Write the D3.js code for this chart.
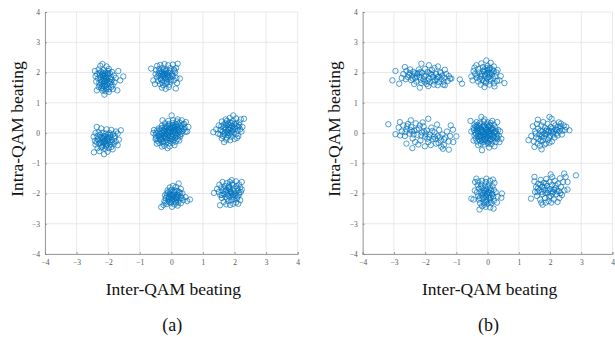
<!DOCTYPE html>
<html><head><meta charset="utf-8">
<script src="https://cdn.jsdelivr.net/npm/d3@7"></script>
<style>body{margin:0;background:#fff}svg{display:block}</style>
</head><body><svg id="chart" width="615" height="337"></svg>
<script>
// ---- data ----
const tickValues = [-4,-3,-2,-1,0,1,2,3,4];
const xLabel = "Inter-QAM beating";
const yLabel = "Intra-QAM beating";
const panelTitles = ["(a)", "(b)"];

const a_c1 = [[-2.42,2.05],[-2.36,1.41],[-2.12,1.27],[-1.52,1.87],[-1.71,1.41],[-1.62,1.74],[-1.68,2.05],[-2.25,2.22],[-2.18,2.28],[-2.05,2.2],[-1.98,2.12],[-2.3,2.1],[-2.22,2.02],[-2.14,2.08],[-2.08,2.0],[-1.95,1.98],[-1.88,2.02],[-2.35,1.95],[-2.27,1.9],[-2.18,1.93],[-2.1,1.88],[-2.02,1.92],[-1.92,1.85],[-1.82,1.9],[-2.32,1.8],[-2.24,1.76],[-2.15,1.82],[-2.06,1.78],[-1.98,1.72],[-1.88,1.76],[-1.8,1.68],[-2.28,1.66],[-2.2,1.62],[-2.12,1.68],[-2.04,1.6],[-1.95,1.64],[-1.86,1.58],[-2.3,1.52],[-2.22,1.48],[-2.14,1.55],[-2.06,1.5],[-1.97,1.45],[-1.9,1.52],[-2.18,1.4],[-2.08,1.38],[-1.98,1.36],[-2.26,1.58],[-2.1,1.72],[-2.02,1.84],[-2.16,1.98],[-2.38,1.7],[-1.76,1.82],[-1.85,1.45],[-2.4,1.88],[-2.0,2.05],[-2.12,1.6],[-2.13,1.79],[-2.07,1.83],[-2.19,1.71],[-2.03,1.67],[-2.16,1.9],[-2.09,1.56],[-1.93,1.79],[-2.24,1.85],[-2.01,1.97],[-2.11,1.95],[-2.2,1.54],[-1.91,1.68],[-2.05,1.45],[-2.27,1.98],[-2.15,1.46]];
const a_c2 = [[-0.64,2.13],[0.27,1.8],[0.14,1.47],[0.2,2.29],[-0.57,1.74],[-0.45,2.22],[-0.35,2.25],[-0.22,2.28],[-0.1,2.24],[0.05,2.26],[-0.48,2.08],[-0.38,2.12],[-0.28,2.15],[-0.16,2.1],[-0.04,2.14],[0.08,2.1],[0.15,2.15],[-0.5,1.95],[-0.4,1.98],[-0.3,2.02],[-0.2,1.96],[-0.1,2.0],[0.02,1.96],[0.12,2.0],[-0.46,1.84],[-0.34,1.88],[-0.24,1.85],[-0.14,1.9],[-0.04,1.84],[0.06,1.88],[0.16,1.82],[-0.42,1.72],[-0.32,1.76],[-0.22,1.72],[-0.12,1.78],[-0.02,1.7],[0.08,1.74],[-0.36,1.62],[-0.26,1.58],[-0.16,1.64],[-0.06,1.6],[-0.3,1.5],[-0.18,1.46],[-0.08,1.52],[-0.52,1.62],[0.18,1.65],[-0.26,1.95],[-0.08,1.92],[-0.18,2.05],[-0.34,1.8],[-0.21,1.93],[-0.15,1.97],[-0.27,1.89],[-0.11,1.86],[-0.31,1.95],[-0.19,1.81],[-0.05,2.05],[-0.37,2.04],[-0.25,2.08],[-0.13,1.69],[0.01,1.9],[-0.41,1.9],[-0.29,1.67],[0.1,2.06],[-0.02,1.77]];
const a_c3 = [[-2.45,-0.64],[-2.13,-0.7],[-1.6,0.09],[-2.36,0.2],[-2.22,0.15],[-2.05,0.12],[-1.9,0.1],[-1.75,0.05],[-2.4,0.0],[-2.3,0.02],[-2.18,0.0],[-2.08,-0.02],[-1.96,0.0],[-1.84,-0.04],[-1.7,-0.02],[-2.46,-0.12],[-2.34,-0.1],[-2.24,-0.14],[-2.14,-0.1],[-2.02,-0.14],[-1.92,-0.12],[-1.8,-0.16],[-2.42,-0.26],[-2.3,-0.24],[-2.2,-0.28],[-2.1,-0.22],[-2.0,-0.26],[-1.88,-0.24],[-1.76,-0.28],[-1.66,-0.22],[-2.4,-0.38],[-2.28,-0.36],[-2.16,-0.4],[-2.06,-0.34],[-1.94,-0.38],[-1.82,-0.36],[-1.7,-0.4],[-2.34,-0.5],[-2.22,-0.48],[-2.1,-0.52],[-1.98,-0.5],[-1.86,-0.54],[-2.28,-0.6],[-2.02,-0.62],[-1.9,-0.46],[-2.16,-0.2],[-2.04,-0.4],[-2.26,-0.06],[-1.98,-0.18],[-2.12,-0.32],[-2.09,-0.27],[-2.15,-0.31],[-2.03,-0.2],[-2.19,-0.16],[-1.95,-0.29],[-2.25,-0.32],[-2.11,-0.12],[-1.87,-0.31],[-2.33,-0.2],[-2.07,-0.44],[-1.93,-0.06],[-2.19,-0.45],[-1.79,-0.1],[-2.37,-0.3],[-2.0,-0.06]];
const a_c4 = [[0.01,0.58],[-0.57,0.0],[0.54,0.2],[-0.46,-0.35],[0.33,0.42],[-0.28,0.42],[0.5,0.05],[0.4,0.3],[-0.5,-0.2],[-0.3,-0.45],[-0.12,-0.5],[0.1,-0.4],[0.25,-0.25],[0.46,0.36],[0.2,0.45],[-0.55,0.1],[-0.1,0.4],[0.05,0.42],[0.18,0.38],[-0.2,0.32],[-0.08,0.3],[0.04,0.33],[0.14,0.3],[0.26,0.34],[0.36,0.28],[-0.3,0.24],[-0.2,0.22],[-0.1,0.25],[0.0,0.22],[0.1,0.24],[0.2,0.2],[0.3,0.23],[0.42,0.18],[-0.4,0.15],[-0.3,0.17],[-0.2,0.14],[-0.1,0.16],[0.0,0.13],[0.1,0.17],[0.2,0.14],[0.3,0.15],[0.4,0.12],[-0.45,0.08],[-0.35,0.06],[-0.25,0.09],[-0.15,0.07],[-0.05,0.08],[0.05,0.06],[0.15,0.09],[0.25,0.05],[0.35,0.07],[0.45,0.04],[-0.48,0.0],[-0.38,-0.02],[-0.28,0.01],[-0.18,-0.01],[-0.08,0.02],[0.02,-0.02],[0.12,0.0],[0.22,-0.01],[0.32,-0.03],[-0.5,-0.08],[-0.4,-0.09],[-0.3,-0.07],[-0.2,-0.1],[-0.1,-0.08],[0.0,-0.1],[0.1,-0.07],[0.2,-0.1],[0.28,-0.12],[-0.48,-0.16],[-0.38,-0.18],[-0.28,-0.15],[-0.18,-0.17],[-0.08,-0.16],[0.02,-0.19],[0.12,-0.16],[0.2,-0.2],[-0.44,-0.26],[-0.34,-0.24],[-0.24,-0.27],[-0.14,-0.23],[-0.04,-0.26],[0.06,-0.24],[0.14,-0.28],[-0.38,-0.33],[-0.26,-0.35],[-0.16,-0.31],[-0.06,-0.34],[0.04,-0.32],[-0.22,-0.42],[-0.05,-0.44],[-0.12,0.04],[0.08,0.1],[-0.22,-0.05],[0.16,-0.05],[-0.02,0.18],[-0.32,-0.12],[-0.03,0.03],[-0.13,-0.05],[0.07,0.04],[-0.09,0.11],[0.13,0.13],[-0.19,-0.13],[0.03,-0.13],[-0.23,0.05],[0.23,0.1],[-0.33,-0.21],[0.17,0.25],[-0.01,-0.21],[0.33,0.19],[-0.27,-0.29],[0.09,0.2],[-0.41,-0.12],[0.27,-0.06],[-0.15,0.21],[0.05,0.27],[-0.35,0.12]];
const a_c5 = [[1.33,0.03],[2.3,0.47],[1.96,0.58],[1.67,-0.3],[1.86,-0.24],[2.2,0.45],[1.42,0.12],[1.5,0.25],[1.6,0.38],[1.72,0.45],[1.85,0.5],[2.05,0.48],[2.15,0.35],[2.25,0.2],[2.22,0.05],[2.12,-0.1],[2.0,-0.2],[1.55,-0.05],[1.6,-0.18],[1.75,-0.15],[1.55,0.1],[1.65,0.18],[1.75,0.25],[1.85,0.35],[1.95,0.4],[2.05,0.3],[2.12,0.2],[1.62,0.05],[1.72,0.1],[1.82,0.15],[1.92,0.22],[2.02,0.14],[2.1,0.08],[1.68,-0.05],[1.78,0.0],[1.88,0.05],[1.98,0.02],[2.06,-0.04],[1.72,0.32],[1.8,-0.08],[1.9,-0.12],[1.95,0.12],[1.84,0.26],[1.66,0.28],[1.58,0.22],[2.0,0.3],[1.76,0.4],[1.9,-0.02],[1.48,-0.02],[2.18,0.12],[1.81,0.11],[1.87,0.17],[1.77,0.05],[1.93,0.08],[1.71,0.19],[1.85,-0.02],[1.99,0.19],[1.69,0.01],[2.07,0.23],[1.79,0.3],[1.63,-0.1],[2.15,0.26],[1.91,0.33],[1.74,-0.22],[2.08,-0.16]];
const a_c6 = [[-0.32,-2.45],[0.59,-2.2],[0.23,-1.67],[-0.2,-2.06],[0.5,-2.25],[0.45,-2.12],[0.05,-1.75],[-0.05,-1.8],[0.15,-1.78],[0.3,-1.85],[-0.12,-1.9],[0.0,-1.88],[0.12,-1.9],[0.24,-1.95],[0.35,-2.0],[-0.15,-2.0],[-0.05,-2.02],[0.07,-1.98],[0.18,-2.04],[0.3,-2.1],[-0.18,-2.15],[-0.08,-2.12],[0.04,-2.1],[0.14,-2.14],[0.26,-2.2],[0.38,-2.22],[-0.22,-2.25],[-0.1,-2.24],[0.02,-2.22],[0.12,-2.26],[0.22,-2.3],[-0.15,-2.35],[-0.02,-2.32],[0.1,-2.36],[0.2,-2.4],[-0.25,-2.38],[0.02,-2.44],[0.3,-2.32],[-0.02,-2.16],[0.08,-2.04],[0.2,-2.12],[-0.1,-1.96],[0.16,-2.2],[-0.06,-2.28],[0.28,-1.98],[0.05,-2.07],[0.11,-2.11],[-0.01,-2.05],[0.09,-1.95],[0.17,-2.16],[-0.07,-2.17],[0.01,-2.27],[0.23,-2.07],[-0.13,-2.08],[0.07,-2.19],[0.19,-1.91],[-0.03,-1.93],[0.15,-2.3],[-0.19,-2.3],[0.33,-2.15]];
const a_c7 = [[1.35,-1.98],[2.23,-1.62],[1.91,-1.56],[1.54,-2.39],[2.23,-1.87],[1.96,-2.34],[1.52,-1.71],[1.62,-1.62],[1.75,-1.66],[1.85,-1.62],[2.05,-1.6],[2.14,-1.7],[1.45,-1.85],[1.58,-1.8],[1.7,-1.76],[1.82,-1.74],[1.94,-1.72],[2.06,-1.76],[2.18,-1.8],[1.5,-1.95],[1.62,-1.9],[1.74,-1.88],[1.86,-1.86],[1.98,-1.84],[2.1,-1.9],[2.2,-1.95],[1.55,-2.05],[1.66,-2.02],[1.78,-2.0],[1.9,-1.98],[2.02,-2.0],[2.14,-2.04],[1.6,-2.15],[1.72,-2.12],[1.84,-2.1],[1.96,-2.12],[2.08,-2.16],[2.18,-2.22],[1.66,-2.28],[1.8,-2.25],[1.9,-2.22],[2.05,-2.3],[1.74,-2.36],[1.86,-2.38],[2.12,-2.34],[1.88,-1.95],[1.95,-2.05],[1.8,-1.82],[1.91,-2.01],[1.85,-1.93],[1.97,-1.93],[1.79,-2.06],[2.03,-2.07],[1.83,-1.79],[2.09,-1.83],[1.71,-1.94],[1.99,-2.19],[1.77,-2.17],[2.15,-1.97],[1.67,-1.84],[1.93,-1.67],[2.1,-2.1],[1.6,-2.05]];

const b_c1 = [[-3.05,1.74],[-2.83,1.63],[-2.95,2.05],[-2.65,2.18],[-2.12,2.29],[-1.88,2.24],[-1.59,2.2],[-2.17,1.5],[-1.37,1.58],[-1.16,1.8],[-0.89,1.77],[-0.82,1.63],[-1.37,2.09],[-2.7,1.95],[-2.6,2.05],[-2.55,1.85],[-2.5,1.98],[-2.45,1.75],[-2.42,1.9],[-2.38,2.02],[-2.32,1.82],[-2.28,1.7],[-2.25,1.95],[-2.2,2.1],[-2.18,1.85],[-2.12,1.65],[-2.1,1.98],[-2.05,1.78],[-2.0,2.12],[-1.98,1.9],[-1.95,1.62],[-1.92,2.02],[-1.88,1.8],[-1.85,1.68],[-1.82,1.95],[-1.78,2.08],[-1.75,1.85],[-1.72,1.6],[-1.68,1.75],[-1.65,1.95],[-1.6,1.85],[-1.55,1.68],[-1.52,2.02],[-1.48,1.78],[-1.45,1.9],[-1.42,1.6],[-1.38,1.82],[-1.32,1.95],[-1.28,1.72],[-1.24,1.88],[-1.2,1.8],[-2.62,1.78],[-2.35,1.62],[-2.02,1.7],[-1.7,2.15],[-2.48,2.1],[-1.9,1.55],[-1.6,1.58],[-2.15,2.02],[-2.75,1.82],[-1.5,1.98],[-2.03,1.87],[-1.93,1.73],[-2.27,1.87],[-1.77,1.93],[-2.4,1.8],[-1.63,1.78],[-2.14,1.76],[-1.86,1.98],[-2.52,1.92],[-1.41,1.7],[-2.21,1.98],[-1.74,1.71],[-1.56,1.86],[-2.33,1.97]];
const b_c2 = [[-0.04,2.4],[-0.52,1.87],[0.54,1.65],[0.38,1.74],[-0.1,1.52],[0.22,1.54],[-0.36,2.24],[-0.2,2.3],[0.1,2.32],[0.2,2.2],[-0.45,2.05],[-0.3,2.12],[-0.15,2.18],[0.0,2.22],[0.15,2.1],[0.28,2.0],[-0.4,1.95],[-0.28,2.0],[-0.14,2.05],[0.0,2.08],[0.12,2.0],[0.24,1.88],[-0.35,1.82],[-0.22,1.88],[-0.08,1.94],[0.05,1.9],[0.18,1.8],[0.3,1.72],[-0.3,1.7],[-0.16,1.76],[-0.02,1.8],[0.1,1.72],[-0.22,1.6],[-0.06,1.65],[0.06,1.6],[0.2,1.64],[0.42,1.88],[-0.48,1.74],[0.08,2.15],[-0.05,1.7],[-0.1,2.1],[0.32,2.08],[-0.42,2.16],[-0.01,1.97],[0.07,1.99],[-0.09,1.89],[0.03,1.85],[-0.19,1.95],[0.14,1.93],[-0.11,2.02],[0.05,2.11],[-0.25,1.79],[0.09,1.79],[-0.03,2.15],[0.2,2.04],[-0.33,1.9],[-0.12,1.71]];
const b_c3 = [[-3.18,0.29],[-2.95,-0.04],[-2.81,0.36],[-2.6,-0.35],[-2.41,-0.5],[-1.9,0.47],[-2.01,-0.44],[-1.43,-0.52],[-1.24,-0.55],[-1.18,0.25],[-1.0,-0.11],[-1.11,0.11],[-2.46,0.42],[-2.85,0.18],[-2.75,0.05],[-2.7,0.25],[-2.65,-0.1],[-2.6,0.12],[-2.55,0.3],[-2.5,-0.02],[-2.45,0.2],[-2.4,-0.18],[-2.35,0.08],[-2.3,0.32],[-2.25,-0.06],[-2.2,0.15],[-2.15,-0.25],[-2.1,0.02],[-2.05,0.22],[-2.0,-0.12],[-1.95,0.08],[-1.9,-0.3],[-1.85,-0.05],[-1.8,0.18],[-1.75,-0.2],[-1.7,0.02],[-1.65,-0.35],[-1.6,-0.1],[-1.55,0.1],[-1.5,-0.25],[-1.45,-0.05],[-1.4,-0.4],[-1.35,-0.15],[-1.3,0.05],[-1.25,-0.28],[-1.2,-0.1],[-2.8,-0.08],[-2.58,0.22],[-2.32,-0.3],[-2.08,0.35],[-1.82,-0.4],[-1.62,0.28],[-1.48,-0.45],[-2.22,-0.38],[-1.72,-0.12],[-2.42,0.05],[-1.98,-0.02],[-1.1,-0.3],[-2.27,0.11],[-1.87,-0.14],[-2.13,-0.08],[-1.67,-0.19],[-2.47,0.1],[-1.53,-0.14],[-2.37,-0.05],[-1.77,0.07],[-2.63,0.03],[-1.39,-0.21],[-2.03,0.05],[-1.57,-0.33],[-2.17,0.25],[-1.93,-0.19]];
const b_c4 = [[-0.55,0.4],[-0.2,0.53],[-0.18,-0.57],[0.44,-0.19],[0.31,0.36],[-0.39,0.22],[0.22,-0.44],[-0.1,0.45],[0.4,0.05],[0.38,-0.3],[-0.45,-0.25],[-0.3,-0.4],[0.05,-0.48],[-0.52,0.05],[0.15,0.4],[-0.35,0.36],[-0.25,0.34],[-0.12,0.38],[0.0,0.35],[0.1,0.33],[-0.42,0.28],[-0.32,0.26],[-0.22,0.29],[-0.12,0.25],[-0.02,0.28],[0.08,0.26],[0.2,0.27],[-0.45,0.17],[-0.35,0.19],[-0.25,0.16],[-0.15,0.2],[-0.05,0.17],[0.05,0.19],[0.15,0.16],[0.25,0.18],[-0.44,0.1],[-0.34,0.08],[-0.24,0.11],[-0.14,0.07],[-0.04,0.1],[0.06,0.08],[0.16,0.11],[0.26,0.07],[0.34,0.1],[-0.4,0.01],[-0.3,-0.01],[-0.2,0.02],[-0.1,-0.02],[0.0,0.01],[0.1,-0.01],[0.2,0.02],[0.3,-0.02],[-0.42,-0.08],[-0.32,-0.1],[-0.22,-0.07],[-0.12,-0.11],[-0.02,-0.08],[0.08,-0.1],[0.18,-0.07],[0.28,-0.11],[0.36,-0.09],[-0.38,-0.18],[-0.28,-0.2],[-0.18,-0.17],[-0.08,-0.19],[0.02,-0.17],[0.12,-0.2],[0.22,-0.18],[0.32,-0.2],[-0.34,-0.28],[-0.24,-0.26],[-0.14,-0.29],[-0.04,-0.26],[0.06,-0.28],[0.16,-0.27],[0.26,-0.3],[-0.22,-0.36],[-0.1,-0.38],[0.02,-0.35],[0.12,-0.37],[-0.16,0.04],[0.04,-0.04],[-0.06,0.13],[-0.26,-0.13],[0.12,0.05],[-0.08,-0.22],[-0.07,0.03],[0.03,0.05],[-0.13,-0.05],[-0.03,-0.13],[0.09,-0.05],[-0.19,0.09],[0.13,0.13],[-0.23,-0.1],[-0.09,0.21],[0.19,-0.13],[-0.29,0.05],[0.03,0.23],[-0.17,-0.23],[0.23,0.05],[-0.33,0.15],[0.07,-0.23],[-0.01,-0.31],[-0.27,0.22],[0.29,-0.15],[-0.37,-0.04]];
const b_c5 = [[1.31,-0.24],[1.5,-0.46],[1.73,-0.54],[1.98,0.53],[2.05,0.47],[2.62,0.09],[2.35,0.31],[1.61,0.44],[1.45,0.22],[2.24,-0.08],[1.87,-0.35],[1.4,-0.1],[1.48,-0.28],[1.52,0.05],[1.56,-0.15],[1.6,-0.35],[1.62,0.15],[1.66,-0.05],[1.7,-0.25],[1.72,0.25],[1.76,0.05],[1.8,-0.15],[1.82,-0.38],[1.84,0.18],[1.88,-0.05],[1.92,0.3],[1.94,-0.22],[1.96,0.08],[2.0,-0.1],[2.02,0.2],[2.06,-0.28],[2.08,0.02],[2.12,0.32],[2.14,-0.15],[2.18,0.12],[2.2,-0.02],[2.26,0.2],[2.3,0.05],[2.34,0.15],[2.4,0.08],[2.44,0.25],[2.48,0.1],[2.52,0.2],[1.58,0.3],[1.68,-0.42],[1.9,0.12],[2.1,-0.05],[1.78,0.36],[2.28,0.35],[1.54,-0.02],[1.98,-0.32],[2.38,-0.05],[1.74,-0.05],[1.93,0.03],[2.03,0.07],[1.83,-0.03],[1.87,0.07],[2.13,0.05],[1.73,-0.13],[2.07,0.15],[1.77,-0.25],[2.23,0.1],[1.63,-0.19],[1.97,-0.15],[2.33,0.23],[1.69,0.07],[2.17,0.25]];
const b_c6 = [[-0.52,-2.17],[-0.26,-2.53],[0.19,-2.5],[0.46,-2.0],[0.44,-2.14],[0.17,-1.54],[-0.36,-1.51],[-0.04,-1.51],[-0.41,-1.9],[-0.3,-1.6],[-0.18,-1.58],[-0.06,-1.62],[0.08,-1.58],[0.22,-1.65],[-0.32,-1.72],[-0.2,-1.7],[-0.08,-1.74],[0.04,-1.7],[0.16,-1.76],[-0.28,-1.84],[-0.16,-1.82],[-0.04,-1.86],[0.08,-1.82],[0.2,-1.88],[-0.34,-1.96],[-0.22,-1.94],[-0.1,-1.98],[0.02,-1.95],[0.14,-2.0],[0.26,-1.96],[-0.3,-2.08],[-0.18,-2.06],[-0.06,-2.1],[0.06,-2.06],[0.18,-2.1],[0.32,-2.1],[-0.28,-2.2],[-0.16,-2.18],[-0.04,-2.22],[0.08,-2.2],[0.2,-2.24],[-0.24,-2.32],[-0.12,-2.3],[0.0,-2.34],[0.12,-2.32],[-0.18,-2.42],[-0.06,-2.44],[0.08,-2.46],[-0.45,-2.2],[-0.4,-1.62],[0.3,-2.3],[-0.02,-2.0],[-0.12,-1.9],[0.1,-2.14],[-0.03,-2.03],[0.05,-1.97],[-0.13,-2.13],[-0.07,-1.93],[0.03,-2.15],[-0.15,-1.99],[0.11,-1.89],[-0.05,-2.27],[-0.21,-1.77],[0.01,-1.77],[-0.11,-2.37],[0.15,-2.03],[-0.25,-2.15],[0.09,-2.27]];
const b_c7 = [[1.39,-2.17],[1.5,-1.45],[1.76,-2.37],[2.02,-1.37],[2.45,-1.34],[2.83,-1.4],[2.56,-1.62],[2.56,-1.87],[2.24,-2.28],[2.07,-1.46],[1.5,-1.6],[1.55,-1.78],[1.52,-1.95],[1.58,-2.08],[1.62,-1.68],[1.65,-1.9],[1.68,-2.2],[1.7,-1.55],[1.74,-1.78],[1.76,-2.02],[1.8,-1.65],[1.82,-1.88],[1.84,-2.15],[1.88,-1.52],[1.9,-1.75],[1.92,-1.98],[1.95,-2.25],[1.98,-1.62],[2.0,-1.85],[2.02,-2.08],[2.06,-1.72],[2.1,-1.95],[2.12,-2.2],[2.15,-1.58],[2.18,-1.82],[2.2,-2.02],[2.25,-1.68],[2.28,-1.92],[2.32,-1.5],[2.35,-1.78],[2.38,-2.05],[2.42,-1.62],[2.46,-1.9],[2.5,-1.45],[1.6,-1.95],[1.86,-2.3],[2.04,-2.3],[1.72,-2.3],[2.3,-2.15],[1.93,-1.89],[1.85,-1.97],[2.03,-1.93],[1.79,-1.77],[2.13,-1.87],[1.87,-1.67],[2.07,-2.01],[1.73,-1.95],[2.23,-1.93],[1.69,-1.71],[1.97,-2.11],[2.17,-1.73],[2.33,-1.99],[1.61,-1.83]];

const panelA = [a_c1, a_c2, a_c3, a_c4, a_c5, a_c6, a_c7];
const panelB = [b_c1, b_c2, b_c3, b_c4, b_c5, b_c6, b_c7];

// ---- layout ----
const svg = d3.select("#chart");
const panels = [
  {pts: panelA.flat(), x0: 45, x1: 297.7, title: panelTitles[0], ylabX: 23},
  {pts: panelB.flat(), x0: 362.7, x1: 612.5, title: panelTitles[1], ylabX: 340}
];
const yTop = 12, yBot = 254;
const blue = "#0072BD";

panels.forEach(p => {
  const x = d3.scaleLinear().domain([-4, 4]).range([p.x0, p.x1]);
  const y = d3.scaleLinear().domain([-4, 4]).range([yBot, yTop]);
  const g = svg.append("g");

  // grid
  g.append("g").selectAll("line").data(tickValues).join("line")
    .attr("x1", d => x(d)).attr("x2", d => x(d)).attr("y1", yTop).attr("y2", yBot)
    .attr("stroke", "#e3e3e3").attr("stroke-width", 0.8);
  g.append("g").selectAll("line").data(tickValues).join("line")
    .attr("y1", d => y(d)).attr("y2", d => y(d)).attr("x1", p.x0).attr("x2", p.x1)
    .attr("stroke", "#e3e3e3").attr("stroke-width", 0.8);

  // axes
  const ax = g.append("g").attr("transform", `translate(0,${yBot})`)
    .call(d3.axisBottom(x).tickValues(tickValues).tickSize(-2).tickPadding(6));
  const ay = g.append("g").attr("transform", `translate(${p.x0},0)`)
    .call(d3.axisLeft(y).tickValues(tickValues).tickSize(-2).tickPadding(5));
  [ax, ay].forEach(a => {
    a.select(".domain").attr("stroke", "#888").attr("stroke-width", 0.8);
    a.selectAll(".tick line").attr("stroke", "#888").attr("stroke-width", 0.8);
    a.selectAll(".tick text").attr("fill", "#555")
      .style("font-family", "'Liberation Serif', serif").style("font-size", "7.5px");
  });

  // points
  g.append("g").selectAll("circle").data(p.pts).join("circle")
    .attr("cx", d => x(d[0])).attr("cy", d => y(d[1])).attr("r", 2.7)
    .attr("fill", "none").attr("stroke", blue).attr("stroke-width", 0.8)
    .attr("stroke-opacity", 0.85);

  // labels
  const cx = (p.x0 + p.x1) / 2;
  g.append("text").attr("x", cx + 2).attr("y", 295).attr("text-anchor", "middle")
    .style("font-family", "'Liberation Serif', serif").style("font-size", "17.5px")
    .attr("fill", "#111").text(xLabel);
  g.append("text").attr("transform", `translate(${p.ylabX},129) rotate(-90)`)
    .attr("text-anchor", "middle")
    .style("font-family", "'Liberation Serif', serif").style("font-size", "17.5px")
    .attr("fill", "#111").text(yLabel);
  g.append("text").attr("x", cx + 1).attr("y", 331).attr("text-anchor", "middle")
    .style("font-family", "'Liberation Serif', serif").style("font-size", "18px")
    .attr("fill", "#111").text(p.title);
});
</script></body></html>
